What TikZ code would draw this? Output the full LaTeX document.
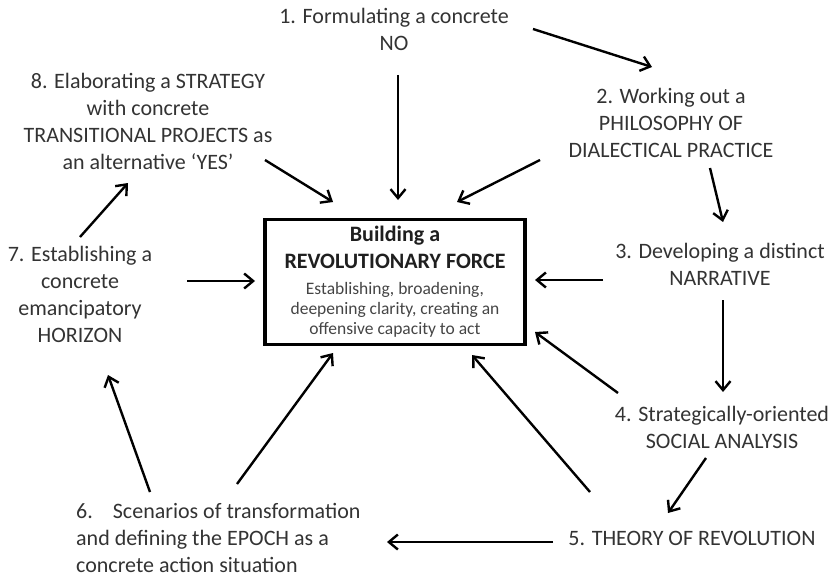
\documentclass[tikz,border=0pt]{standalone}
\usepackage{fontspec}
\setmainfont{Carlito}
\usetikzlibrary{arrows.meta}

\definecolor{textgray}{gray}{0.2}
\definecolor{smallgray}{gray}{0.27}

\begin{document}
\begin{tikzpicture}[x=1pt,y=-1pt,
  steptext/.style={font=\fontsize{22}{27}\selectfont, text=textgray, align=center, inner sep=0pt},
  arr/.style={line width=2.4pt, -{Straight Barb[length=9pt,width=15pt]}},
  forcebox/.style={draw, line width=3.5pt, minimum width=260pt, minimum height=125pt,
    align=center, inner sep=0pt, font=\fontsize{17.5}{20}\selectfont, text=smallgray}]

\useasboundingbox (0,0) rectangle (838,578);

% centre
\node [forcebox] (force) at (395,282)
  {{\fontsize{22}{27}\selectfont\bfseries\color{black!88}Building a}\\[7pt]
   {\fontsize{22}{27}\selectfont\bfseries\color{black!88}REVOLUTIONARY FORCE}\\[6pt]
   Establishing, broadening,\\
   deepening clarity, creating an\\
   offensive capacity to act};

% the eight steps
\node [steptext] (no) at (394,29) {1. Formulating a concrete\\ NO};
\node [steptext] (philosophy) at (671,123) {2. Working out a\\ PHILOSOPHY OF\\ DIALECTICAL PRACTICE};
\node [steptext] (narrative) at (720,264) {3. Developing a distinct\\ NARRATIVE};
\node [steptext] (analysis) at (722,427) {4. Strategically-oriented\\ SOCIAL ANALYSIS};
\node [steptext] (theory) at (692,538) {5. THEORY OF REVOLUTION};
\node [steptext, align=left, anchor=west] (scenarios) at (76,538)
  {6.\hspace{20pt}Scenarios of transformation\\ and defining the EPOCH as a\\ concrete action situation};
\node [steptext] (horizon) at (80,294) {7. Establishing a\\ concrete\\ emancipatory\\ HORIZON};
\node [steptext] (strategy) at (148,121) {8. Elaborating a STRATEGY\\ with concrete\\ TRANSITIONAL PROJECTS as\\ an alternative ‘YES’};

% round the circle
\draw [arr] ([shift={(139,0)}]no.center) -- ([shift={(-19,-56)}]philosophy.center);
\draw [arr] ([shift={(39,45)}]philosophy.center) -- ([shift={(3,-42)}]narrative.center);
\draw [arr] ([shift={(3,36)}]narrative.center) -- ([shift={(1,-35)}]analysis.center);
\draw [arr] ([shift={(-16,31)}]analysis.center) -- ([shift={(-24,-25)}]theory.center);
\draw [arr] ([shift={(-139,4)}]theory.center) -- ([shift={(311,4)}]scenarios.west);
\draw [arr] ([shift={(74,-46)}]scenarios.west) -- ([shift={(28,81)}]horizon.center);
\draw [arr] ([shift={(0,-57)}]horizon.center) -- ([shift={(-20,62)}]strategy.center);

% into the centre
\draw [arr] ([shift={(4,46)}]no.center) -- ([shift={(3,-82)}]force.center);
\draw [arr] ([shift={(-131,37)}]philosophy.center) -- ([shift={(62,-80)}]force.center);
\draw [arr] ([shift={(-117,16)}]narrative.center) -- ([shift={(140,-2)}]force.center);
\draw [arr] ([shift={(-104,-34)}]analysis.center) -- ([shift={(140,50)}]force.center);
\draw [arr] ([shift={(-102,-46)}]theory.center) -- ([shift={(77,73)}]force.center);
\draw [arr] ([shift={(161,-54)}]scenarios.west) -- ([shift={(-62,71)}]force.center);
\draw [arr] ([shift={(107,-13)}]horizon.center) -- ([shift={(-140,-1)}]force.center);
\draw [arr] ([shift={(117,39)}]strategy.center) -- ([shift={(-62,-80)}]force.center);

\end{tikzpicture}
\end{document}
